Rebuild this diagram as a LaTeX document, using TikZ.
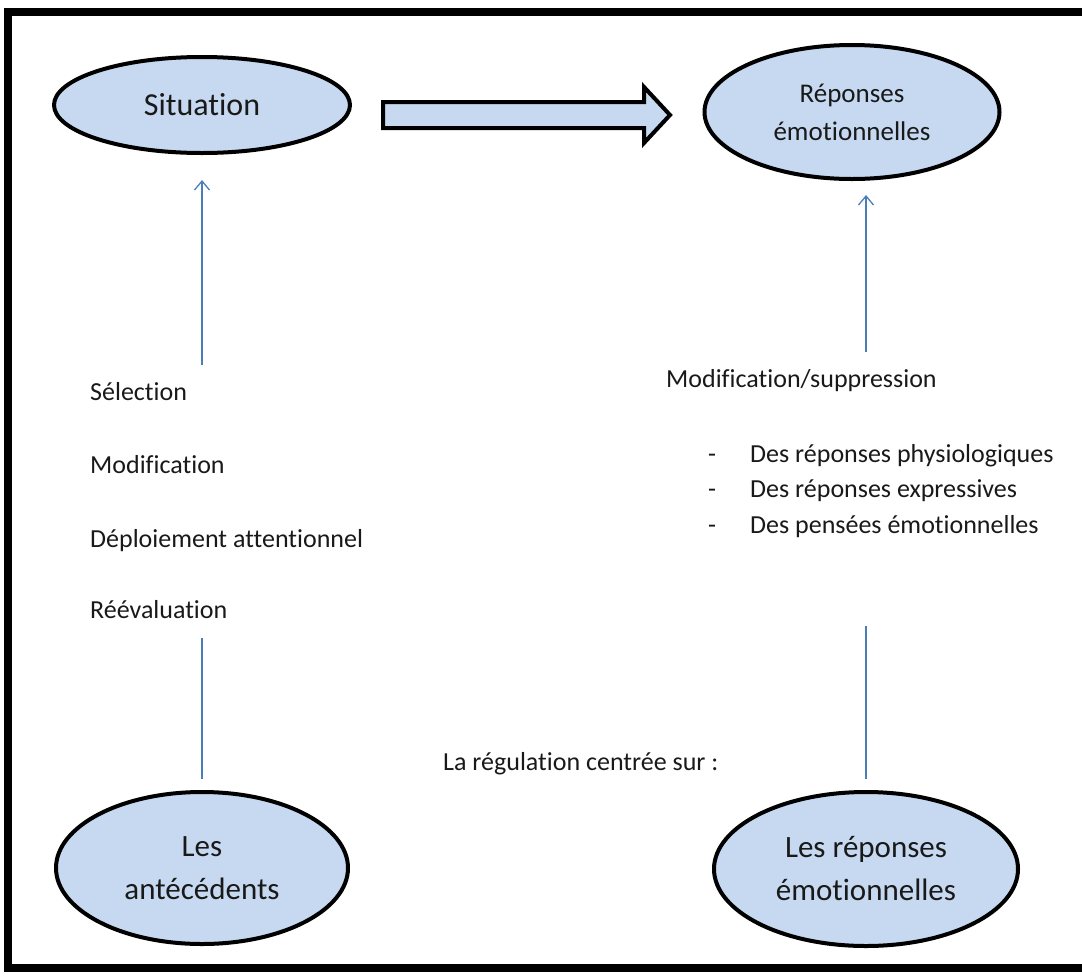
\documentclass[tikz,border=0pt]{standalone}
\usepackage{fontspec}
\setmainfont{Carlito}[Ligatures={NoCommon}]
\usetikzlibrary{shapes.geometric,arrows.meta}
\definecolor{fillblue}{HTML}{C6D9F1}
\definecolor{linkblue}{HTML}{4A7EBB}
\begin{document}
\begin{tikzpicture}[x=1pt,y=-1pt,
  bubble/.style={ellipse, draw=black, line width=4pt, fill=fillblue, inner sep=0pt, align=center, text=black!90},
  lbl/.style={anchor=base west, inner sep=0pt, text=black!90, font=\fontsize{26}{30}\selectfont},
  link/.style={draw=linkblue, line width=1.3pt},
  linkarrow/.style={link, -{Straight Barb[length=9pt,width=15pt,line width=1.3pt]}},
  bigarrow/.style={draw=black, line width=4pt, fill=fillblue, line join=miter}
]
\useasboundingbox (0,0) rectangle (1082,975);
\draw[line width=8pt] (7.5,12) rectangle (1100,968);

% ellipses
\node[bubble, minimum width=296pt, minimum height=96pt, font=\fontsize{32}{36}\selectfont] (sit) at (202,105) {Situation};
\node[bubble, minimum width=295pt, minimum height=134pt, font=\fontsize{27}{38}\selectfont] (rep) at (852,112) {Réponses\\émotionnelles};
\node[bubble, minimum width=292pt, minimum height=152pt, font=\fontsize{31}{43}\selectfont] (ant) at (202,868) {Les\\antécédents};
\node[bubble, minimum width=304pt, minimum height=154pt, font=\fontsize{31}{43}\selectfont] (rem) at (866,869) {Les réponses\\émotionnelles};

% big arrow
\draw[bigarrow] (383,102) -- (644,102) -- (644,87) -- (670,115) -- (644,143) -- (644,128) -- (383,128) -- cycle;

% left labels
\node[lbl] (sel) at (90,400) {Sélection};
\node[lbl] (modl) at (90,473) {Modification};
\node[lbl] (dep) at (90,547) {Déploiement attentionnel};
\node[lbl] (ree) at (90,618) {Réévaluation};

% right labels
\node[lbl] (mods) at (666,387) {Modification/suppression};
\node[lbl] (d1) at (708,462) {-};
\node[lbl] (d2) at (708,497) {-};
\node[lbl] (d3) at (708,533) {-};
\node[lbl] (i1) at (750,462) {Des réponses physiologiques};
\node[lbl] (i2) at (750,497) {Des réponses expressives};
\node[lbl] (i3) at (750,533) {Des pensées émotionnelles};

\node[lbl] (reg) at (443,770) {La régulation centrée sur :};

% connectors
\coordinate (la1) at (202,365);
\coordinate (la2) at (202,180);
\coordinate (ra1) at (866,352);
\coordinate (ra2) at (866,195);
\coordinate (lb1) at (202,779);
\coordinate (lb2) at (202,638);
\coordinate (rb1) at (866,779);
\coordinate (rb2) at (866,626);
\draw[linkarrow] (la1) -- (la2);
\draw[linkarrow] (ra1) -- (ra2);
\draw[link] (lb1) -- (lb2);
\draw[link] (rb1) -- (rb2);
\end{tikzpicture}
\end{document}
